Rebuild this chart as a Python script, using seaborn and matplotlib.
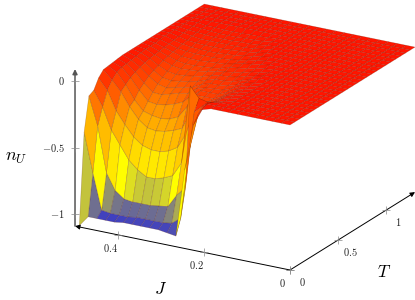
import numpy as np
import matplotlib
matplotlib.use('Agg')
import matplotlib.pyplot as plt
from matplotlib.colors import Normalize
from mpl_toolkits.mplot3d import proj3d
import seaborn as sns

j_grid = [0.49, 0.4696, 0.4492, 0.4288, 0.4083, 0.3879, 0.3675, 0.3471, 0.3267, 0.3063, 0.2858, 0.2654, 0.245,
          0.2246, 0.2042, 0.1838, 0.1633, 0.1429, 0.1225, 0.1021, 0.0817, 0.0613, 0.0408, 0.0204, 0.0]
t_grid = [0.0, 0.05, 0.1, 0.15, 0.2, 0.25, 0.3, 0.35, 0.4, 0.45, 0.5, 0.55, 0.6, 0.65, 0.7, 0.75, 0.8, 0.85, 0.9,
          0.95, 1.0, 1.05, 1.1, 1.15, 1.2, 1.25, 1.3]

# n_U per T row, first 16 J columns (the rest of the surface is flat at 0)
valley_rows = [
    [-1.08, -1.00, -1.00, -1.00, -1.00, -.99, -.99, -.99, -.99, -.99, -1.00, -1.01, -.50, -.15, -.02, 0],
    [-.40, -.69, -.96, -.97, -.97, -.97, -.96, -.96, -.96, -.96, -.95, -.90, -.37, -.09, 0, 0],
    [-.15, -.36, -.70, -.82, -.87, -.88, -.88, -.88, -.87, -.86, -.76, -.69, -.11, -.05, -.01, 0],
    [-.13, -.24, -.40, -.50, -.60, -.66, -.70, -.70, -.68, -.65, -.54, .05, -.03, -.045, -.03, -.01],
    [-.06, -.14, -.28, -.37, -.45, -.50, -.52, -.52, -.50, -.46, -.34, -.12, -.09, -.07, -.03, -.01],
    [-.02, -.085, -.16, -.26, -.34, -.39, -.40, -.39, -.37, -.34, -.20, -.11, -.10, -.07, -.03, -.01],
    [-.015, -.05, -.13, -.23, -.30, -.32, -.33, -.32, -.29, -.20, -.10, -.10, -.10, -.07, -.03, -.01],
    [-.01, -.035, -.10, -.18, -.25, -.26, -.25, -.23, -.20, -.14, -.09, -.09, -.09, -.06, -.03, -.01],
    [-.005, -.03, -.08, -.15, -.205, -.21, -.19, -.17, -.16, -.11, -.09, -.085, -.08, -.055, -.025, -.01],
    [0, -.025, -.065, -.12, -.165, -.18, -.165, -.15, -.135, -.10, -.08, -.08, -.07, -.05, -.02, -.01],
    [0, -.02, -.055, -.10, -.14, -.15, -.14, -.13, -.115, -.09, -.07, -.07, -.06, -.04, -.02, 0],
    [0, -.015, -.045, -.085, -.115, -.125, -.12, -.11, -.10, -.08, -.065, -.06, -.05, -.03, -.015, 0],
    [0, -.01, -.04, -.07, -.095, -.105, -.10, -.095, -.085, -.07, -.06, -.05, -.04, -.02, -.01, 0],
    [0, -.01, -.035, -.06, -.08, -.09, -.09, -.085, -.08, -.07, -.05, -.04, -.03, -.015, -.005, 0],
    [0, -.01, -.03, -.05, -.07, -.075, -.075, -.07, -.065, -.06, -.045, -.03, -.02, -.01, 0, 0],
    [0, -.005, -.025, -.045, -.055, -.06, -.06, -.06, -.055, -.05, -.04, -.025, -.015, -.005, 0, 0],
    [0, 0, -.02, -.035, -.045, -.05, -.05, -.05, -.045, -.04, -.03, -.02, -.01, 0, 0, 0],
    [0, 0, -.015, -.03, -.035, -.04, -.04, -.04, -.035, -.03, -.025, -.015, -.005, 0, 0, 0],
    [0, 0, -.01, -.02, -.03, -.03, -.03, -.03, -.03, -.025, -.02, -.01, 0, 0, 0, 0],
    [0, 0, -.01, -.015, -.02, -.025, -.025, -.025, -.02, -.02, -.015, -.005, 0, 0, 0, 0],
    [0, 0, -.005, -.01, -.015, -.02, -.02, -.02, -.015, -.015, -.01, 0, 0, 0, 0, 0],
    [0, 0, 0, -.01, -.01, -.015, -.015, -.015, -.01, -.01, -.005, 0, 0, 0, 0, 0],
]
j_ticks = [0.4, 0.2, 0.0]
j_tick_labels = ['$0.4$', '$0.2$', '$0$']
t_ticks = [0.0, 0.5, 1.0]
t_tick_labels = ['$0$', '$0.5$', '$1$']
z_ticks = [0.0, -0.5, -1.0]
z_tick_labels = ['$0$', '$-0.5$', '$-1$']

sns.set_theme(style='white', rc={'mathtext.fontset': 'cm'})
hot = sns.blend_palette(['blue', 'yellow', 'orange', 'red'], as_cmap=True)

n_u = np.zeros((len(t_grid), len(j_grid)))
n_u[:len(valley_rows), :len(valley_rows[0])] = np.array(valley_rows)
jj, tt = np.meshgrid(j_grid, t_grid)

z_low, z_top = -1.09, 0.09
fig = plt.figure(figsize=(4.15, 3.0), dpi=100)
ax = fig.add_axes([0.1, 0.1, 0.8, 0.8], projection='3d')
ax.set_proj_type('ortho')
ax.view_init(elev=20.9, azim=-150.2)
ax.set_xlim(0, 1.3)
ax.set_ylim(0, 0.5)
ax.set_zlim(z_low, z_top)
ax.set_box_aspect((251.5, 247.7, (z_top - z_low) * 142.4))
ax.set_axis_off()


def to_view(t, j, z):
    x, y, _ = proj3d.proj_transform(t, j, z, ax.get_proj())
    return x, y


def to_px(t, j, z):
    return ax.transData.transform(to_view(t, j, z))


# scale and shift the axes so that the axis corners land where they are in the picture
fig.canvas.draw()
span = to_px(1.3, 0, z_low)[0] - to_px(0, 0.5, z_low)[0]
scale = 340.0 / span
pos = ax.get_position()
side = pos.width * 415 * scale
ax.set_position([0, 0, side / 415, side / 300])
fig.canvas.draw()
corner = to_px(0, 0, z_low)
ax.set_position([(290 - corner[0]) / 415, (30 - corner[1]) / 300, side / 415, side / 300])
fig.canvas.draw()

ax.plot_surface(tt, jj, n_u, rstride=1, cstride=1, cmap=hot, norm=Normalize(-1.08, 0.05), shade=False,
                edgecolor=(0.35, 0.1, 0, 0.3), linewidth=0.4, antialiased=True)


def axis_arrow(start, end, color='black', lw=0.7):
    ax.annotate('', xy=to_view(*end), xytext=to_view(*start), annotation_clip=False, zorder=1000000,
                arrowprops=dict(arrowstyle='-|>', color=color, lw=lw, shrinkA=0, shrinkB=0, mutation_scale=7))


axis_arrow((0, 0, z_low), (0, 0.5, z_low))
axis_arrow((0, 0, z_low), (1.3, 0, z_low))
axis_arrow((0, 0.5, z_low), (0, 0.5, z_top), color='#555555', lw=1.1)


def tick(t, j, z, label, dx, dy, ha='center'):
    ax.plot([t], [j], [z], marker='+', ms=6, mew=0.5, color='#888888', ls='none', zorder=1000001, clip_on=False)
    ax.annotate(label, xy=to_view(t, j, z), xytext=(dx, dy), textcoords='offset pixels', ha=ha, va='center',
                fontsize=7.5, color='#222222', annotation_clip=False, zorder=1000001)


for value, label in zip(j_ticks, j_tick_labels):
    tick(0, value, z_low, label, -8, -13)
for value, label in zip(t_ticks, t_tick_labels):
    tick(value, 0, z_low, label, 12, -12)
for value, label in zip(z_ticks, z_tick_labels):
    tick(0, 0.5, value, label, -10, 0, ha='right')

fig.text(161 / 415, 1 - 289 / 300, '$J$', fontsize=12.5, ha='center', va='center', color='black')
fig.text(384 / 415, 1 - 272 / 300, '$T$', fontsize=12.5, ha='center', va='center', color='black')
fig.text(16 / 415, 1 - 157 / 300, '$n_U$', fontsize=13, ha='center', va='center', color='black')

plt.savefig('out.png', dpi=100)
